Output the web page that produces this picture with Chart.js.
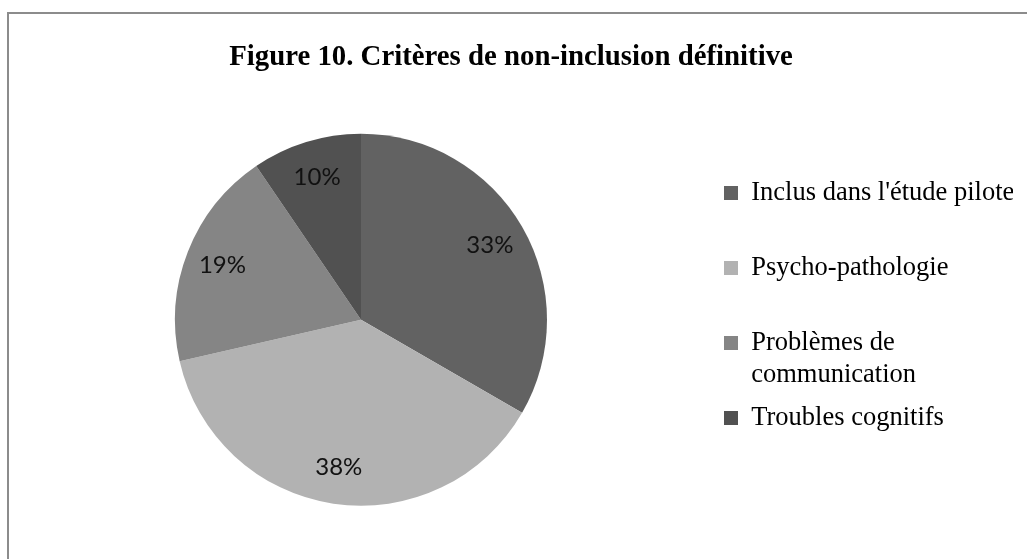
<!DOCTYPE html>
<html>
<head>
<meta charset="utf-8">
<script src="https://cdn.jsdelivr.net/npm/chart.js@4.4.1/dist/chart.umd.min.js"></script>
<style>
  html, body { margin: 0; padding: 0; background: #ffffff; }
  #wrap { position: absolute; left: 0; top: 0; width: 1027px; height: 559px; }
</style>
</head>
<body>
<div id="wrap"><canvas id="c" width="1027" height="559"></canvas></div>
<script>
const chartTitle = "Figure 10. Critères de non-inclusion définitive";
const categories = ["Inclus dans l'étude pilote", "Psycho-pathologie", "Problèmes de communication", "Troubles cognitifs"];
const counts = [7, 8, 4, 2];
const sliceColors = ["#626262", "#b2b2b2", "#858585", "#515151"];

const SERIF = "'Liberation Serif', 'Times New Roman', serif";
const SANS = "Lato, 'Open Sans', sans-serif";

const frameBorder = {
  id: 'frameBorder',
  beforeDraw(chart) {
    const ctx = chart.ctx;
    ctx.save();
    ctx.fillStyle = '#ffffff';
    ctx.fillRect(0, 0, chart.width, chart.height);
    ctx.strokeStyle = '#8c8c8c';
    ctx.lineWidth = 2;
    ctx.strokeRect(8, 13, 1200, 800);
    ctx.restore();
  }
};

const pctLabels = {
  id: 'pctLabels',
  afterDatasetsDraw(chart) {
    const ctx = chart.ctx;
    const meta = chart.getDatasetMeta(0);
    const data = chart.data.datasets[0].data;
    const total = data.reduce((a, b) => a + b, 0);
    ctx.save();
    ctx.font = "24px " + SANS;
    ctx.fillStyle = '#111111';
    ctx.textAlign = 'center';
    ctx.textBaseline = 'middle';
    meta.data.forEach((arc, i) => {
      const p = arc.getProps(['x', 'y', 'startAngle', 'endAngle', 'outerRadius'], true);
      const mid = (p.startAngle + p.endAngle) / 2;
      const r = p.outerRadius * 0.8;
      const x = p.x + Math.cos(mid) * r;
      const y = p.y + Math.sin(mid) * r;
      ctx.fillText(Math.round(data[i] / total * 100) + '%', x, y);
    });
    ctx.restore();
  }
};

function wrapText(ctx, text, maxW) {
  const words = text.split(' ');
  const lines = [];
  let cur = '';
  words.forEach(w => {
    const test = cur ? cur + ' ' + w : w;
    if (ctx.measureText(test).width > maxW && cur) { lines.push(cur); cur = w; }
    else cur = test;
  });
  if (cur) lines.push(cur);
  return lines;
}

new Chart(document.getElementById('c'), {
  type: 'pie',
  data: {
    labels: categories,
    datasets: [{
      data: counts,
      backgroundColor: sliceColors,
      borderWidth: 0,
      radius: 186
    }]
  },
  plugins: [frameBorder, pctLabels],
  options: {
    responsive: false,
    animation: false,
    devicePixelRatio: 1,
    layout: { padding: { left: 9, right: 14, top: 40, bottom: 10 } },
    plugins: {
      tooltip: { enabled: false },
      title: {
        display: true,
        text: chartTitle,
        color: '#000000',
        font: { family: SERIF, size: 28.8, weight: 'bold', lineHeight: 1.2 },
        padding: { top: 0, bottom: 16 }
      },
      legend: {
        position: 'right',
        align: 'center',
        fullSize: false,
        maxWidth: 300,
        title: {
          display: true,
          text: '',
          font: { size: 1, lineHeight: '1px' },
          padding: { top: 8, bottom: 0 }
        },
        labels: {
          color: '#000000',
          boxWidth: 14,
          boxHeight: 14,
          padding: 11,
          font: { family: SERIF, size: 26.5, lineHeight: '32px' },
          generateLabels(chart) {
            const items = Chart.overrides.pie.plugins.legend.labels.generateLabels(chart);
            const ctx = chart.ctx;
            ctx.save();
            ctx.font = "26.5px " + SERIF;
            items.forEach(it => {
              const lines = wrapText(ctx, it.text, 272);
              while (lines.length < 2) lines.push('');
              it.text = lines;
              it.lineWidth = 0;
            });
            ctx.restore();
            return items;
          }
        }
      }
    }
  }
});
</script>
</body>
</html>
